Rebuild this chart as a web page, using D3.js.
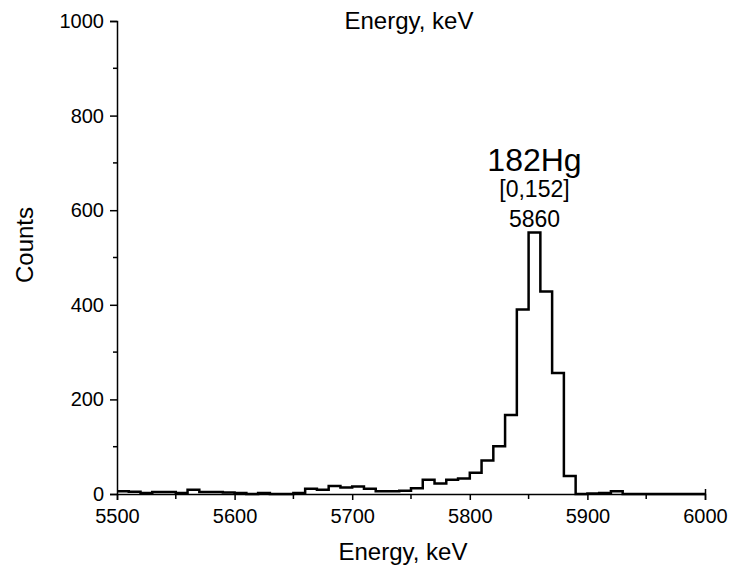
<!DOCTYPE html>
<html>
<head>
<meta charset="utf-8">
<script src="https://cdn.jsdelivr.net/npm/d3@7/dist/d3.min.js"></script>
<style>
body { margin: 0; background: #fff; }
text { font-family: "Liberation Sans", Arial, sans-serif; fill: #000; }
</style>
</head>
<body>
<svg id="chart" width="729" height="568"></svg>
<script>
// bin start energies (keV), bin width 10 keV
const binStarts = d3.range(5500, 6000, 10);
const counts = [
  6, 5, 2, 4, 4, 2, 9, 4, 4, 3,
  2, 0, 2, 0, 0, 2, 11, 9, 17, 14,
  16, 11, 6, 6, 7, 12, 30, 22, 30, 33,
  45, 71, 101, 167, 390, 553, 428, 256, 38, 0,
  1, 2, 6, 0, 0, 0, 0, 0, 0, 0
];
const binWidth = 10;
const xTicks = [5500, 5600, 5700, 5800, 5900, 6000];
const xMinorTicks = [5550, 5650, 5750, 5850, 5950];
const yTicks = [0, 200, 400, 600, 800, 1000];
const yMinorTicks = [100, 300, 500, 700, 900];
const xTitle = "Energy, keV";
const yTitle = "Counts";
const labelLines = ["182Hg", "[0,152]", "5860"];

const svg = d3.select("#chart");
const mLeft = 117, mRight = 705, mTop = 21, mBottom = 494;
const x = d3.scaleLinear().domain([5500, 6000]).range([mLeft, mRight]);
const y = d3.scaleLinear().domain([0, 1000]).range([mBottom, mTop]);

// axes
const xAxis = d3.axisBottom(x).tickValues(xTicks).tickSize(6).tickPadding(9).tickFormat(d3.format("d"));
const gx = svg.append("g").attr("transform", `translate(0,${mBottom})`).call(xAxis);
gx.selectAll(".tick").filter(d => d === 6000).select("line").attr("y1", -5);
gx.append("g").selectAll("line").data(xMinorTicks).join("line")
  .attr("x1", d => x(d)).attr("x2", d => x(d)).attr("y1", 0).attr("y2", 5)
  .attr("stroke", "#000").attr("stroke-width", 1.5);

const yAxis = d3.axisLeft(y).tickValues(yTicks).tickSize(7).tickPadding(6).tickFormat(d3.format("d"));
const gy = svg.append("g").attr("transform", `translate(${mLeft},0)`).call(yAxis);
gy.append("g").selectAll("line").data(yMinorTicks).join("line")
  .attr("y1", d => y(d)).attr("y2", d => y(d)).attr("x1", 0).attr("x2", -4)
  .attr("stroke", "#000").attr("stroke-width", 1.5);

[gx, gy].forEach(g => {
  g.select(".domain").attr("stroke", "#000").attr("stroke-width", 1.5);
  g.selectAll(".tick line").attr("stroke", "#000").attr("stroke-width", 1.5);
  g.selectAll(".tick text").attr("font-size", 20).attr("font-family", "Liberation Sans, Arial, sans-serif").attr("fill", "#000");
});

// histogram step line
const pts = binStarts.map((b, i) => [b, counts[i]]);
pts.push([binStarts[binStarts.length - 1] + binWidth, counts[counts.length - 1]]);
const line = d3.line().x(d => x(d[0])).y(d => y(d[1])).curve(d3.curveStepAfter);
svg.append("path").datum(pts).attr("d", line)
  .attr("fill", "none").attr("stroke", "#000").attr("stroke-width", 2.5)
  .attr("stroke-linejoin", "miter");

// titles
svg.append("text").attr("x", 403).attr("y", 560).attr("text-anchor", "middle")
  .attr("font-size", 24).text(xTitle);
svg.append("text").attr("x", 409).attr("y", 29).attr("text-anchor", "middle")
  .attr("font-size", 24).text(xTitle);
svg.append("text").attr("transform", "translate(33,245) rotate(-90)").attr("text-anchor", "middle")
  .attr("font-size", 24).text(yTitle);

// peak annotation
const peakE = 5855;
svg.append("text").attr("x", x(peakE)).attr("y", 171).attr("text-anchor", "middle")
  .attr("font-size", 32).text(labelLines[0]);
svg.append("text").attr("x", x(peakE)).attr("y", 197).attr("text-anchor", "middle")
  .attr("font-size", 23).text(labelLines[1]);
svg.append("text").attr("x", x(peakE)).attr("y", 227).attr("text-anchor", "middle")
  .attr("font-size", 23).text(labelLines[2]);
</script>
</body>
</html>
